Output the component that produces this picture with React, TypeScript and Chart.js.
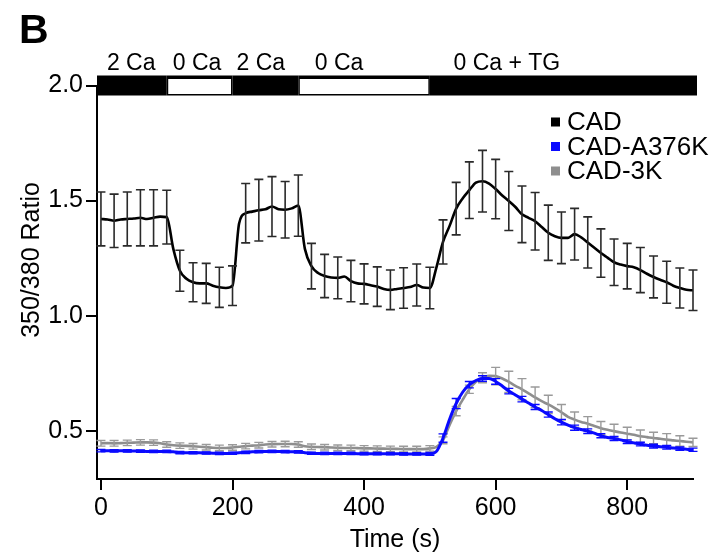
import React, { useEffect, useRef } from 'react';
import { Chart, registerables } from 'chart.js';

Chart.register(...registerables);

const FONT = '"Liberation Sans", Arial, Helvetica, sans-serif';

// sample times (s), one every 10 s
const TIME = Array.from({ length: 91 }, (_, i) => i * 10);
// times at which error bars are drawn (s)
const ERR_TIME = Array.from({ length: 46 }, (_, i) => i * 20);

const CAD = [
  1.420, 1.418, 1.412, 1.418, 1.420, 1.422, 1.425, 1.420, 1.425, 1.430,
  1.428, 1.290, 1.195, 1.160, 1.145, 1.140, 1.140, 1.130, 1.123, 1.120,
  1.130, 1.400, 1.445, 1.452, 1.458, 1.462, 1.474, 1.462, 1.460, 1.466,
  1.478, 1.290, 1.215, 1.185, 1.172, 1.166, 1.164, 1.170, 1.150, 1.140,
  1.138, 1.132, 1.126, 1.116, 1.112, 1.116, 1.120, 1.124, 1.133, 1.122,
  1.120, 1.210, 1.320, 1.390, 1.465, 1.510, 1.545, 1.578, 1.584, 1.574,
  1.550, 1.522, 1.498, 1.472, 1.440, 1.425, 1.410, 1.385, 1.360, 1.345,
  1.338, 1.338, 1.354, 1.340, 1.318, 1.295, 1.272, 1.252, 1.232, 1.222,
  1.215, 1.210, 1.198, 1.182, 1.168, 1.156, 1.145, 1.130, 1.120, 1.112,
  1.110,
];

const CAD_A376K = [
  0.413, 0.413, 0.412, 0.413, 0.412, 0.412, 0.411, 0.410, 0.410, 0.410,
  0.410, 0.408, 0.405, 0.404, 0.404, 0.404, 0.403, 0.402, 0.401, 0.401,
  0.402, 0.404, 0.406, 0.408, 0.409, 0.410, 0.410, 0.410, 0.409, 0.408,
  0.408, 0.404, 0.402, 0.401, 0.401, 0.401, 0.401, 0.401, 0.401, 0.400,
  0.400, 0.400, 0.400, 0.400, 0.400, 0.400, 0.399, 0.399, 0.399, 0.399,
  0.399, 0.410, 0.468, 0.550, 0.618, 0.668, 0.700, 0.718, 0.727, 0.727,
  0.714, 0.694, 0.672, 0.655, 0.637, 0.620, 0.603, 0.588, 0.570, 0.552,
  0.537, 0.524, 0.513, 0.505, 0.498, 0.489, 0.478, 0.470, 0.466, 0.460,
  0.452, 0.447, 0.442, 0.437, 0.433, 0.430, 0.428, 0.425, 0.422, 0.419,
  0.417,
];

const CAD_3K = [
  0.445, 0.446, 0.445, 0.446, 0.447, 0.448, 0.449, 0.449, 0.448, 0.445,
  0.440, 0.437, 0.435, 0.434, 0.432, 0.430, 0.428, 0.426, 0.425, 0.425,
  0.427, 0.430, 0.433, 0.435, 0.437, 0.440, 0.441, 0.442, 0.442, 0.442,
  0.440, 0.432, 0.430, 0.429, 0.428, 0.427, 0.426, 0.425, 0.425, 0.424,
  0.423, 0.423, 0.422, 0.422, 0.421, 0.421, 0.420, 0.420, 0.420, 0.420,
  0.423, 0.430, 0.458, 0.525, 0.585, 0.635, 0.680, 0.712, 0.730, 0.739,
  0.737, 0.727, 0.712, 0.695, 0.680, 0.662, 0.645, 0.628, 0.614, 0.598,
  0.580, 0.560, 0.548, 0.538, 0.530, 0.520, 0.511, 0.504, 0.498, 0.492,
  0.487, 0.482, 0.476, 0.472, 0.468, 0.465, 0.461, 0.458, 0.455, 0.452,
  0.449,
];

// half-height of the error bars (SEM) at ERR_TIME
const CAD_ERR = [
  0.117, 0.116, 0.117, 0.122, 0.122, 0.117,
  0.089, 0.085, 0.087, 0.087, 0.086,
  0.129, 0.134, 0.130, 0.123, 0.133,
  0.099, 0.094, 0.091, 0.090, 0.087, 0.086, 0.086, 0.088, 0.091, 0.090,
  0.096, 0.114, 0.123, 0.134, 0.129, 0.128, 0.123, 0.125, 0.120, 0.112,
  0.112, 0.111, 0.105, 0.101, 0.099, 0.098, 0.091, 0.091, 0.087, 0.088,
];

const CAD_A376K_ERR = [
  0.005, 0.005, 0.005, 0.005, 0.005, 0.005, 0.005, 0.005, 0.005, 0.005,
  0.005, 0.005, 0.005, 0.005, 0.005, 0.005, 0.005, 0.005, 0.005, 0.005,
  0.005, 0.005, 0.005, 0.005, 0.005, 0.006,
  0.018, 0.022, 0.014, 0.012, 0.012, 0.012, 0.012, 0.011, 0.011, 0.012,
  0.011, 0.010, 0.009, 0.009, 0.008, 0.008, 0.008, 0.008, 0.007, 0.007,
];

const CAD_3K_ERR = [
  0.012, 0.012, 0.012, 0.012, 0.012, 0.012, 0.012, 0.012, 0.012, 0.012,
  0.012, 0.012, 0.012, 0.012, 0.012, 0.012, 0.012, 0.012, 0.012, 0.012,
  0.012, 0.012, 0.012, 0.012, 0.012, 0.012,
  0.015, 0.020, 0.018, 0.022, 0.038, 0.046, 0.046, 0.045, 0.040, 0.034,
  0.033, 0.031, 0.029, 0.030, 0.028, 0.027, 0.025, 0.026, 0.023, 0.018,
];

const SERIES_LABELS = ['CAD', 'CAD-A376K', 'CAD-3K'];
const SERIES_COLORS = ['#000000', '#0a0aff', '#8e8e8e'];
const ERR_COLORS = ['#2a2a2a', '#0a0aff', '#9a9a9a'];
const SERIES_VALUES = [CAD, CAD_A376K, CAD_3K];
const SERIES_ERRORS = [CAD_ERR, CAD_A376K_ERR, CAD_3K_ERR];

// bath solution bar
const SOLUTION_LABELS = ['2 Ca', '0 Ca', '2 Ca', '0 Ca', '0 Ca + TG'];
const SOLUTION_START = [0, 100, 200, 300, 500];
const SOLUTION_END = [100, 200, 300, 500, 900];
const SOLUTION_FILLED = [true, false, true, false, true];
const SOLUTION_LABEL_AT = [46, 146, 243, 362, 617];

const X_TICK_STEP = 200;
const Y_TICK_STEP = 0.5;

const errorBarPlugin = {
  id: 'errorBars',
  afterDatasetDraw(chart: any, args: any) {
    const i = args.index;
    const errs = SERIES_ERRORS[i];
    const vals = SERIES_VALUES[i];
    if (!errs) return;
    const { ctx } = chart;
    const xs = chart.scales.x;
    const ys = chart.scales.y;
    ctx.save();
    ctx.strokeStyle = ERR_COLORS[i];
    ctx.lineWidth = i === 0 ? 1.6 : 1.4;
    const cap = 4.5;
    ERR_TIME.forEach((t, k) => {
      const idx = TIME.indexOf(t);
      if (idx < 0) return;
      const v = vals[idx];
      const e = errs[k];
      const px = xs.getPixelForValue(t);
      const top = ys.getPixelForValue(v + e);
      const bot = ys.getPixelForValue(v - e);
      ctx.beginPath();
      ctx.moveTo(px, top);
      ctx.lineTo(px, bot);
      ctx.moveTo(px - cap, top);
      ctx.lineTo(px + cap, top);
      ctx.moveTo(px - cap, bot);
      ctx.lineTo(px + cap, bot);
      ctx.stroke();
    });
    ctx.restore();
  },
};

const decorPlugin = {
  id: 'decor',
  afterDraw(chart: any) {
    const { ctx, chartArea } = chart;
    const xs = chart.scales.x;
    const ys = chart.scales.y;
    ctx.save();

    // solution bar at y = 2.0
    const yc = ys.getPixelForValue(2.0);
    const last = SOLUTION_LABELS.length - 1;
    SOLUTION_LABELS.forEach((_, i) => {
      const x0 = i === 0 ? chartArea.left : xs.getPixelForValue(SOLUTION_START[i]);
      const x1 = i === last ? chartArea.right + 4 : xs.getPixelForValue(SOLUTION_END[i]);
      ctx.fillStyle = '#000';
      ctx.fillRect(x0, yc - 10, x1 - x0, 20);
      if (!SOLUTION_FILLED[i]) {
        ctx.fillStyle = '#fff';
        ctx.fillRect(x0 + 1.5, yc - 6.5, x1 - x0 - 3, 15);
      }
    });
    ctx.fillStyle = '#000';
    ctx.font = `23px ${FONT}`;
    ctx.textAlign = 'center';
    ctx.textBaseline = 'alphabetic';
    SOLUTION_LABELS.forEach((lab, i) => {
      ctx.fillText(lab, xs.getPixelForValue(SOLUTION_LABEL_AT[i]), 70);
    });

    // panel letter
    ctx.font = `bold 41px ${FONT}`;
    ctx.textAlign = 'left';
    ctx.fillText('B', 19, 43);

    // y axis title
    ctx.save();
    ctx.translate(32, 260);
    ctx.rotate(-Math.PI / 2);
    ctx.font = `25px ${FONT}`;
    ctx.textAlign = 'center';
    ctx.textBaseline = 'middle';
    ctx.fillText('350/380 Ratio', 0, 0);
    ctx.restore();

    // legend
    ctx.font = `26px ${FONT}`;
    ctx.textAlign = 'left';
    ctx.textBaseline = 'middle';
    const rows = [122, 146.5, 171];
    SERIES_LABELS.forEach((lab, i) => {
      ctx.fillStyle = SERIES_COLORS[i];
      ctx.fillRect(551, rows[i] - 4.5, 9, 9);
      ctx.fillStyle = '#000';
      ctx.fillText(lab, 567, rows[i] + 1);
    });
    ctx.restore();
  },
};

export default function App() {
  const ref = useRef<HTMLCanvasElement>(null);
  useEffect(() => {
    if (!ref.current) return;
    Chart.defaults.font.family = FONT;
    const datasets = SERIES_LABELS.map((label, i) => ({
      label,
      data: TIME.map((t, k) => ({ x: t, y: SERIES_VALUES[i][k] })),
      borderColor: SERIES_COLORS[i],
      backgroundColor: SERIES_COLORS[i],
      borderWidth: i === 1 ? 3 : 2.6,
      pointRadius: 0,
      fill: false,
      cubicInterpolationMode: 'monotone' as const,
    }));
    const chart = new Chart(ref.current, {
      type: 'line',
      data: { datasets },
      options: {
        animation: false,
        responsive: false,
        devicePixelRatio: 1,
        layout: { padding: { left: 0, right: 26, top: 85.5, bottom: 0 } },
        plugins: { legend: { display: false }, tooltip: { enabled: false } },
        scales: {
          x: {
            type: 'linear',
            min: -6,
            max: 900,
            afterFit: (s: any) => { s.height = 77; },
            ticks: {
              stepSize: X_TICK_STEP,
              includeBounds: false,
              color: '#000',
              font: { family: FONT, size: 25 },
              padding: 3,
              maxRotation: 0,
            },
            grid: { drawOnChartArea: false, tickLength: 11, color: '#000', lineWidth: 2 },
            border: { color: '#000', width: 2 },
            title: {
              display: true,
              text: 'Time (s)',
              color: '#000',
              font: { family: FONT, size: 25 },
              padding: { top: 0, bottom: 1 },
            },
          },
          y: {
            type: 'linear',
            min: 0.29,
            max: 2.0,
            afterFit: (s: any) => { s.width = 97; },
            ticks: {
              stepSize: Y_TICK_STEP,
              includeBounds: false,
              color: '#000',
              font: { family: FONT, size: 25 },
              padding: 3,
              callback: (v: any) => Number(v).toFixed(1),
            },
            grid: { drawOnChartArea: false, tickLength: 11, color: '#000', lineWidth: 2 },
            border: { color: '#000', width: 2 },
          },
        },
      },
      plugins: [errorBarPlugin, decorPlugin],
    });
    return () => chart.destroy();
  }, []);
  return (
    <div style={{ position: 'absolute', left: 0, top: 0, width: 719, height: 556, background: '#fff' }}>
      <canvas ref={ref} width={719} height={556} style={{ display: 'block' }} />
    </div>
  );
}
